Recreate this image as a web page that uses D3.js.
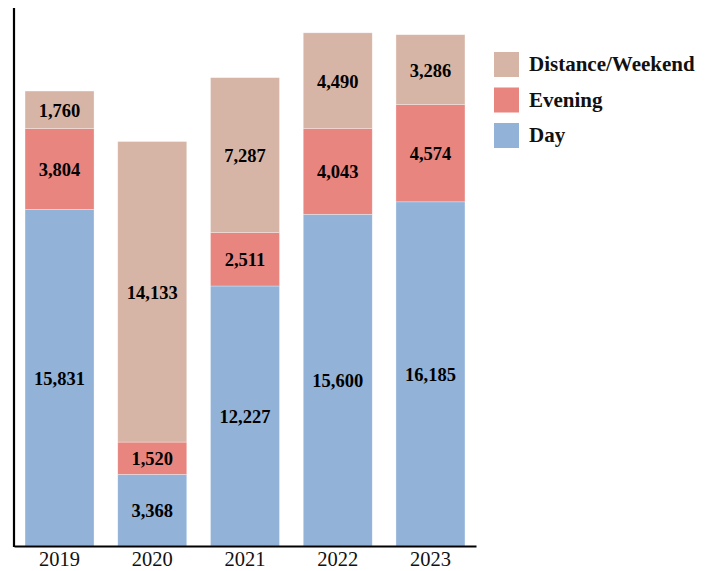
<!DOCTYPE html>
<html>
<head>
<meta charset="utf-8">
<script src="https://cdn.jsdelivr.net/npm/d3@7"></script>
<style>
  body { margin: 0; background: #fff; }
  svg { display: block; }
</style>
</head>
<body>
<svg id="chart" width="715" height="571"></svg>
<script>
// data
var years = ["2019", "2020", "2021", "2022", "2023"];
var day = [15831, 3368, 12227, 15600, 16185];
var evening = [3804, 1520, 2511, 4043, 4574];
var distance = [1760, 14133, 7287, 4490, 3286];
var seriesNames = ["Day", "Evening", "Distance/Weekend"];
var seriesColors = ["#92b2d8", "#e9857f", "#d7b5a6"];

var rows = years.map(function(y, i) {
  return { year: y, "Day": day[i], "Evening": evening[i], "Distance/Weekend": distance[i] };
});

var serif = "'Liberation Serif', 'Times New Roman', serif";
var svg = d3.select("#chart");

var x = d3.scaleBand()
    .domain(years)
    .range([14, 476])
    .paddingInner(0.256)
    .paddingOuter(0.119);

var y = d3.scaleLinear()
    .domain([0, 25300])
    .range([546, 8]);

var color = d3.scaleOrdinal().domain(seriesNames).range(seriesColors);

var stacked = d3.stack().keys(seriesNames)(rows);

var fmt = d3.format(",");

var layer = svg.selectAll("g.layer")
  .data(stacked)
  .enter().append("g")
    .attr("class", "layer")
    .attr("fill", function(d) { return color(d.key); });

layer.selectAll("rect")
  .data(function(d) { return d; })
  .enter().append("rect")
    .attr("x", function(d) { return x(d.data.year); })
    .attr("y", function(d) { return y(d[1]); })
    .attr("width", x.bandwidth())
    .attr("height", function(d) { return y(d[0]) - y(d[1]); })
    .attr("stroke", "#fff")
    .attr("stroke-opacity", 0.5)
    .attr("stroke-width", 0.6);

layer.selectAll("text")
  .data(function(d) { return d; })
  .enter().append("text")
    .attr("x", function(d) { return x(d.data.year) + x.bandwidth() / 2; })
    .attr("y", function(d) { return (y(d[0]) + y(d[1])) / 2; })
    .attr("dy", "0.38em")
    .attr("text-anchor", "middle")
    .attr("fill", "#000")
    .style("font-family", serif)
    .style("font-weight", "bold")
    .style("font-size", "18.5px")
    .text(function(d) { return fmt(d[1] - d[0]); });

// axes
var xAxis = svg.append("g")
    .attr("transform", "translate(0,546)")
    .call(d3.axisBottom(x).tickSize(0));
xAxis.select(".domain").attr("stroke", "#000").attr("stroke-width", 2);
xAxis.selectAll("text")
    .attr("y", 19.5)
    .attr("dy", null)
    .style("font-family", serif)
    .style("font-size", "20.5px")
    .attr("fill", "#111");

svg.append("line")
    .attr("x1", 14).attr("x2", 14)
    .attr("y1", y.range()[1]).attr("y2", 547)
    .attr("stroke", "#000")
    .attr("stroke-width", 2.2);

// legend, top entry first
var legend = svg.append("g").attr("transform", "translate(494,52)");
var items = legend.selectAll("g")
  .data(seriesNames.slice().reverse())
  .enter().append("g")
    .attr("transform", function(d, i) { return "translate(0," + i * 35.5 + ")"; });
items.append("rect")
    .attr("width", 25).attr("height", 25)
    .attr("fill", function(d) { return color(d); });
items.append("text")
    .attr("x", 35).attr("y", 19)
    .style("font-family", serif)
    .style("font-weight", "bold")
    .style("font-size", "21px")
    .attr("fill", "#111")
    .text(function(d) { return d; });
</script>
</body>
</html>
